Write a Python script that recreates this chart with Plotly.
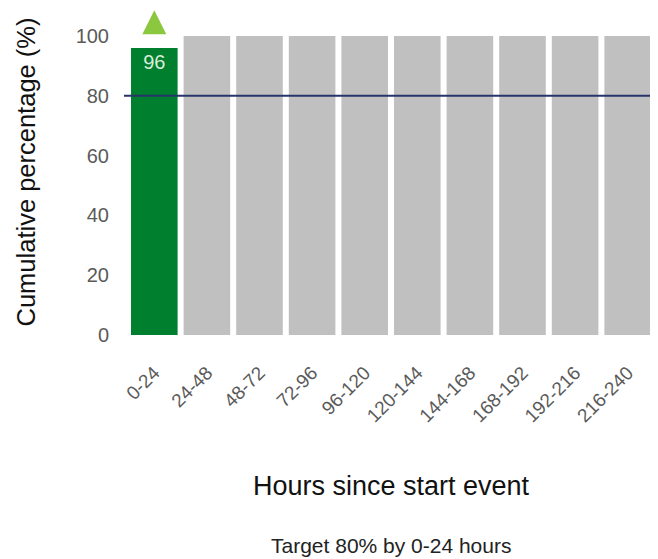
import plotly.graph_objects as go

categories = ["0-24", "24-48", "48-72", "72-96", "96-120", "120-144", "144-168", "168-192", "192-216", "216-240"]
values = [96, 100, 100, 100, 100, 100, 100, 100, 100, 100]
bar_colors = ["#007f2e"] + ["#c0c0c0"] * 9
bar_text = ["96"] + [""] * 9
target = 80
marker_category = "0-24"
marker_value = 108.6
y_ticks = [0, 20, 40, 60, 80, 100]

font = "Liberation Sans, Arial, sans-serif"

fig = go.Figure()
fig.add_trace(go.Bar(
    x=categories, y=values, marker=dict(color=bar_colors, line=dict(width=0)),
    text=bar_text, textposition="inside", insidetextanchor="end",
    textfont=dict(color="#d8eed8", size=20, family=font),
    hoverinfo="skip", showlegend=False,
))
fig.add_trace(go.Scatter(
    x=[marker_category], y=[marker_value], mode="markers",
    marker=dict(symbol="arrow-up", size=24, color="#8cc83f", line=dict(width=0)),
    showlegend=False, hoverinfo="skip",
))
fig.add_shape(type="line", xref="paper", yref="y", x0=-0.0076, x1=1.0076, y0=target, y1=target,
              line=dict(color="#27346a", width=2))

fig.update_layout(
    width=650, height=551,
    margin=dict(l=120, r=4, t=1, b=224, pad=0),
    paper_bgcolor="white", plot_bgcolor="white",
    bargap=0.114,
    font=dict(family=font),
    xaxis=dict(
        range=[-0.5, len(categories) - 0.5],
        tickangle=-45, tickfont=dict(size=19, color="#5a5a5a"), showgrid=False,
        showline=False, ticks="", automargin=False, ticklabelstandoff=22,
        title=dict(text="Hours since start event", font=dict(size=27, color="#111111"), standoff=50),
    ),
    yaxis=dict(
        range=[0, 109], tickvals=y_ticks, tickfont=dict(size=20, color="#5a5a5a"),
        showgrid=False, zeroline=False, showline=False, ticks="", ticklabelstandoff=18,
        automargin=False,
        title=dict(text="Cumulative percentage (%)", font=dict(size=25.5, color="#111111"), standoff=32),
    ),
    annotations=[dict(text="Target 80% by 0-24 hours", xref="paper", yref="paper",
                      x=0.5, y=0, yshift=-210, xanchor="center", yanchor="middle", showarrow=False,
                      font=dict(size=21, color="#222222"))],
)

fig.write_html("out.html")
